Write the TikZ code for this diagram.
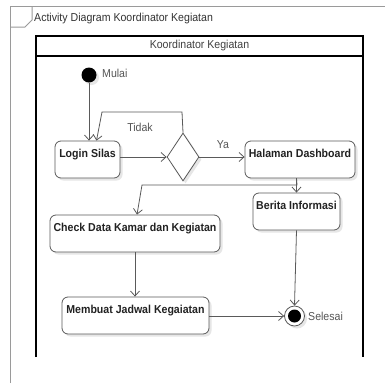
\documentclass[tikz,border=0pt]{standalone}
\usepackage{fontspec}
\newfontfamily\uifont[FakeStretch=0.92]{Liberation Sans}
\usetikzlibrary{arrows.meta,shapes.geometric,shadows}
\definecolor{edgegray}{HTML}{5A5A5A}
\definecolor{framegray}{HTML}{9A9A9A}
\definecolor{labelgray}{HTML}{555555}
\definecolor{textdark}{HTML}{222222}
\tikzset{
  softshadow/.style={drop shadow={shadow xshift=2.5pt,shadow yshift=-2.5pt,fill=black!12,opacity=0.8}},
  actbox/.style={draw=edgegray,line width=0.8pt,rounded corners=6pt,fill=white,softshadow,
    minimum height=37pt,inner ysep=4pt,inner xsep=2pt,text height=12pt,text depth=17pt,
    font=\uifont\fontsize{11.5}{13}\selectfont\bfseries,text=textdark},
  decision/.style={draw=edgegray,line width=0.8pt,diamond,fill=white,softshadow,
    minimum width=32pt,minimum height=48pt,inner sep=0pt},
  startnode/.style={circle,fill=black,minimum size=15pt,inner sep=0pt,softshadow},
  endnode/.style={circle,draw=edgegray,line width=0.8pt,fill=white,minimum size=20pt,inner sep=0pt,softshadow,
    path picture={\fill[black] (path picture bounding box.center) circle (6.5pt);}},
  lbl/.style={font=\uifont\fontsize{11.5}{13}\selectfont,text=labelgray,inner sep=0pt},
  flow/.style={draw=edgegray,line width=0.8pt,-{Straight Barb[length=5pt,width=9pt]}},
  lane/.style={line width=1.2pt,draw=black},
}
\begin{document}
\begin{tikzpicture}[x=1pt,y=-1pt]
\useasboundingbox (0,0) rectangle (385,383);
\fill[white] (0,0) rectangle (385,383);

% diagram frame with its name tab
\draw[framegray,line width=1pt] (10,383) -- (10,6) -- (385,6);
\draw[framegray,line width=1pt] (10,27) -- (25,27) -- (32,20) -- (32,6);
\node[lbl,text=black!80,anchor=west] (title) at (34,19) {Activity Diagram Koordinator Kegiatan};

% swimlane
\draw[lane] (36,357) -- (36,36) -- (363,36) -- (363,357);
\draw[lane] (36,56) -- (363,56);
\node[lbl,text=black!75] (lanename) at (199.5,46) {Koordinator Kegiatan};

% nodes
\node[startnode] (start) at (89,75) {};
\node[lbl,anchor=west] (startlbl) at (102,73) {Mulai};

\node[actbox,minimum width=65pt] (login) at (87.5,159.5) {Login Silas};
\node[decision] (dec) at (183,157) {};
\node[actbox,minimum width=110pt] (dash) at (300,159.5) {Halaman Dashboard};
\node[actbox,minimum width=87pt] (berita) at (296.5,211.5) {Berita Informasi};
\node[actbox,minimum width=170pt] (check) at (135,233.5) {Check Data Kamar dan Kegiatan};
\node[actbox,minimum width=147pt] (jadwal) at (135.5,315.5) {Membuat Jadwal Kegaiatan};

\node[endnode] (end) at (294.5,316) {};
\node[lbl,anchor=west] (endlbl) at (308,316) {Selesai};

% flows
\draw[flow] (start) -- (login.north -| start);
\draw[flow] (login.east |- dec) -- (dec.west);

\coordinate (loopR) at (182,112);
\coordinate (loopL) at (102,112);
\draw[flow] (dec.north) -- (loopR) -- (loopL) -- ([xshift=9pt]login.north);
\node[lbl] (tidak) at (140,127) {Tidak};

\draw[flow] (dec.east) -- (dash.west |- dec);
\node[lbl] (ya) at (223,145) {Ya};

\draw[flow] (dash.south -| berita) -- (berita.north);
\coordinate (forkR) at (297,185);
\coordinate (forkL) at (142,185);
\draw[flow] (dash.south -| berita) -- (forkR) -- (forkL) -- ([xshift=2pt]check.north);

\draw[flow] (check.south) -- (jadwal.north -| check);
\draw[flow] (jadwal.east |- end) -- (end.west);
\draw[flow] (berita.south) -- (end.north);
\end{tikzpicture}
\end{document}
